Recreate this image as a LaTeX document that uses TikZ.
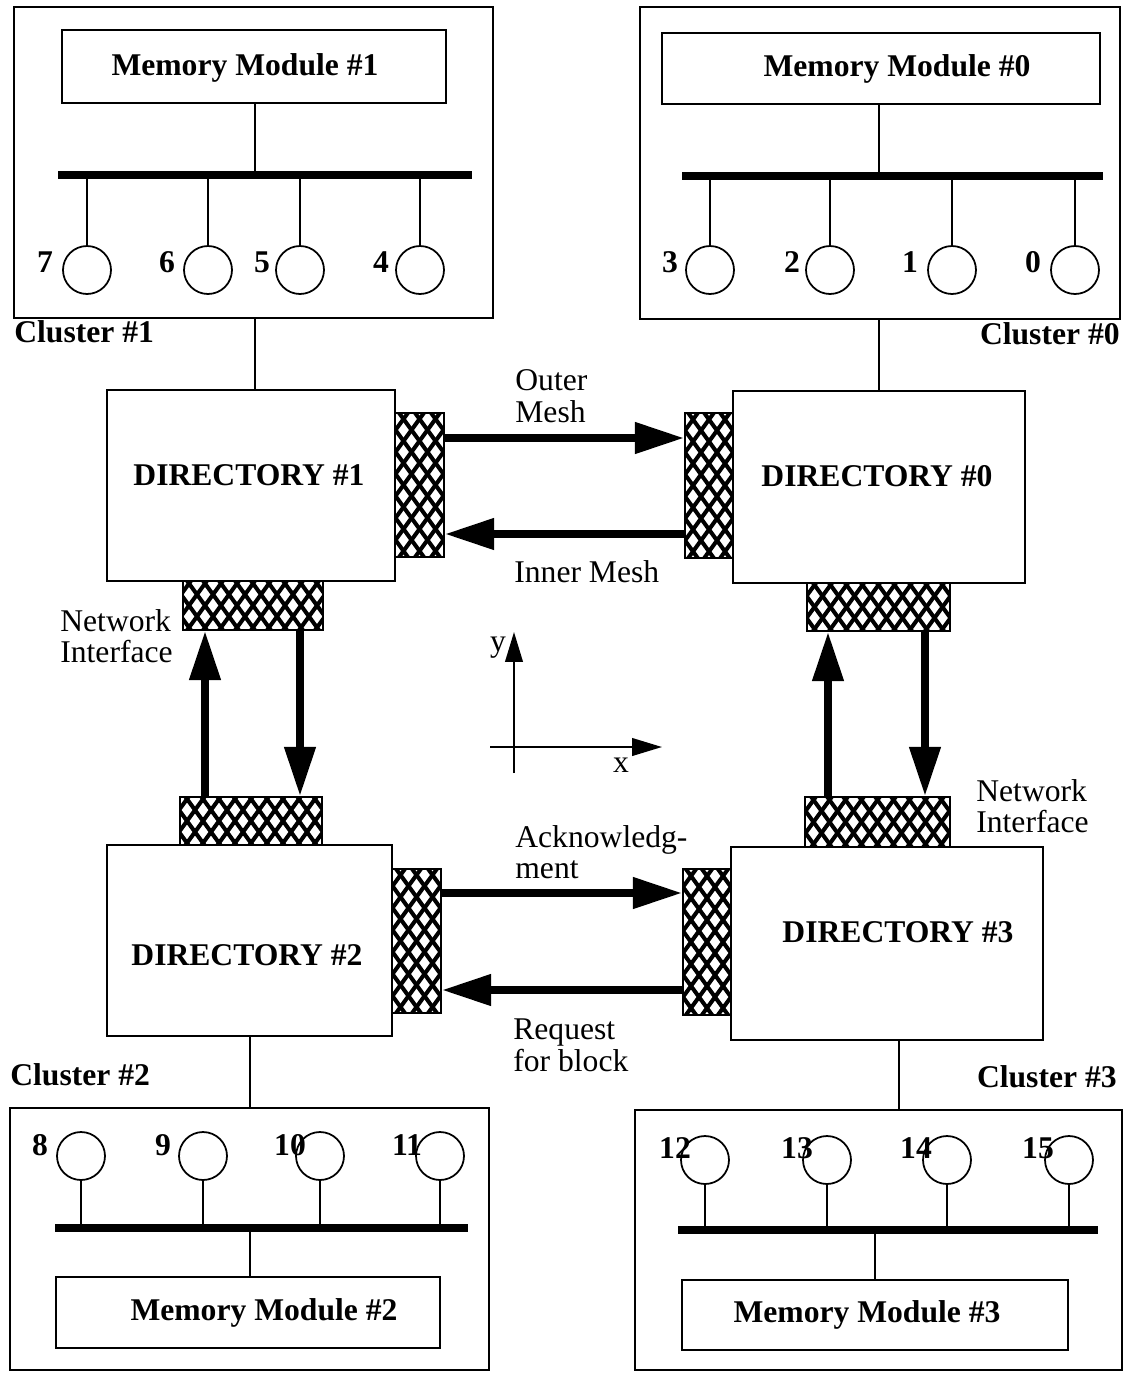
\documentclass[tikz,border=0pt]{standalone}
\usepackage{fontspec}
\setmainfont{Liberation Serif}
\usetikzlibrary{arrows.meta,fit}
\newcommand\lbl{\fontsize{18}{18}\selectfont}
\begin{document}
\begin{tikzpicture}[x=0.02cm,y=-0.02cm,line cap=butt,line join=miter,
  box/.style={draw,line width=1pt,inner sep=0pt},
  boxtext/.style={font=\lbl\bfseries,inner sep=0pt},
  ni/.style={draw,line width=1pt,inner sep=0pt,
    path picture={\foreach \k in {-12,...,12}{
      \draw[line width=2.3pt] ([xshift=\k*3.2mm]path picture bounding box.center) ++(-80,-110) -- ++(160,220);
      \draw[line width=2.3pt] ([xshift=\k*3.2mm]path picture bounding box.center) ++(-80,110) -- ++(160,-220);}}},
  cpu/.style={circle,draw,line width=1pt,minimum size=0.96cm,inner sep=0pt},
  num/.style={font=\lbl\bfseries,inner sep=0pt},
  txt/.style={font=\lbl,align=left,anchor=west,inner sep=0pt},
  link/.style={line width=1pt},
  bus/.style={line width=4.5pt},
  bigarrow/.style={line width=4.5pt,-{Triangle[length=28pt,width=17pt]}},
  axis/.style={line width=1.2pt,-{Triangle[length=17pt,width=10pt]}}]
  \useasboundingbox (0,0) rectangle (1128,1373);

  % Cluster #1 (top left)
  \node[box,fit={(14,7) (493,318)}] (cl1) {};
  \node[box,fit={(62,30) (446,103)}] (mm1) {};
  \node[boxtext] at (245,68) {Memory Module \#1};
  \coordinate (bus1w) at (58,175);
  \coordinate (bus1e) at (472,175);
  \draw[bus] (bus1w) -- (bus1e);
  \draw[link] (mm1.south -| 255,0) -- (bus1w -| 255,0);
  \foreach \cx/\lx/\n in {87/45/7, 208/167/6, 300/262/5, 420/381/4}{
    \node[cpu] (p\n) at (\cx,270) {};
    \node[num] at (\lx,262) {\n};
    \draw[link] (p\n.north) -- (p\n.north |- bus1w);
  }
  \node[num,anchor=west] at (14,332) {Cluster \#1};

  % Cluster #0 (top right)
  \node[box,fit={(640,7) (1120,319)}] (cl0) {};
  \node[box,fit={(662,33) (1100,104)}] (mm0) {};
  \node[boxtext] at (897,69) {Memory Module \#0};
  \coordinate (bus0w) at (682,176);
  \coordinate (bus0e) at (1103,176);
  \draw[bus] (bus0w) -- (bus0e);
  \draw[link] (mm0.south -| 879,0) -- (bus0w -| 879,0);
  \foreach \cx/\lx/\n in {710/670/3, 830/792/2, 952/910/1, 1075/1033/0}{
    \node[cpu] (p\n) at (\cx,270) {};
    \node[num] at (\lx,262) {\n};
    \draw[link] (p\n.north) -- (p\n.north |- bus0w);
  }
  \node[num,anchor=east] at (1120,334) {Cluster \#0};

  % Cluster #2 (bottom left)
  \node[box,fit={(10,1108) (489,1370)}] (cl2) {};
  \node[box,fit={(56,1277) (440,1348)}] (mm2) {};
  \node[boxtext] at (264,1313) {Memory Module \#2};
  \coordinate (bus2w) at (55,1228);
  \coordinate (bus2e) at (468,1228);
  \draw[bus] (bus2w) -- (bus2e);
  \draw[link] (mm2.north -| 250,0) -- (bus2w -| 250,0);
  \foreach \cx/\lx/\n in {81/40/8, 203/163/9, 320/290/10, 440/407/11}{
    \node[cpu] (p\n) at (\cx,1156) {};
    \node[num] at (\lx,1145) {\n};
    \draw[link] (p\n.south) -- (p\n.south |- bus2w);
  }
  \node[num,anchor=west] at (10,1075) {Cluster \#2};

  % Cluster #3 (bottom right)
  \node[box,fit={(635,1110) (1122,1370)}] (cl3) {};
  \node[box,fit={(682,1280) (1068,1350)}] (mm3) {};
  \node[boxtext] at (867,1315) {Memory Module \#3};
  \coordinate (bus3w) at (678,1230);
  \coordinate (bus3e) at (1098,1230);
  \draw[bus] (bus3w) -- (bus3e);
  \draw[link] (mm3.north -| 875,0) -- (bus3w -| 875,0);
  \foreach \cx/\lx/\n in {705/675/12, 827/797/13, 947/916/14, 1069/1038/15}{
    \node[cpu] (p\n) at (\cx,1160) {};
    \node[num] at (\lx,1148) {\n};
    \draw[link] (p\n.south) -- (p\n.south |- bus3w);
  }
  \node[num,anchor=east] at (1117,1077) {Cluster \#3};

  % Directories and network interfaces
  \node[box,fit={(107,390) (395,581)}] (dir1) {};
  \node[box,fit={(733,391) (1025,583)}] (dir0) {};
  \node[box,fit={(107,845) (392,1036)}] (dir2) {};
  \node[box,fit={(731,847) (1043,1040)}] (dir3) {};
  \node[boxtext] at (249,475) {DIRECTORY \#1};
  \node[boxtext] at (877,476) {DIRECTORY \#0};
  \node[boxtext] at (247,955) {DIRECTORY \#2};
  \node[boxtext] at (898,932) {DIRECTORY \#3};
  \node[ni,fit={(395,413) (444,557)}] (ni1r) {};
  \node[ni,fit={(183,581) (323,630)}] (ni1b) {};
  \node[ni,fit={(685,413) (733,558)}] (ni0l) {};
  \node[ni,fit={(807,583) (950,631)}] (ni0b) {};
  \node[ni,fit={(180,797) (322,845)}] (ni2t) {};
  \node[ni,fit={(392,869) (441,1013)}] (ni2r) {};
  \node[ni,fit={(805,797) (950,847)}] (ni3t) {};
  \node[ni,fit={(683,869) (731,1015)}] (ni3l) {};

  % cluster to directory links
  \draw[link] (cl1.south -| 255,0) -- (dir1.north -| 255,0);
  \draw[link] (cl0.south -| 879,0) -- (dir0.north -| 879,0);
  \draw[link] (dir2.south -| 250,0) -- (cl2.north -| 250,0);
  \draw[link] (dir3.south -| 899,0) -- (cl3.north -| 899,0);

  % mesh channels
  \draw[bigarrow] (ni1r.east |- 0,438) -- (ni0l.west |- 0,438);
  \draw[bigarrow] (ni0l.west |- 0,534) -- (ni1r.east |- 0,534);
  \draw[bigarrow] (ni2r.east |- 0,893) -- (ni3l.west |- 0,893);
  \draw[bigarrow] (ni3l.west |- 0,990) -- (ni2r.east |- 0,990);
  \draw[bigarrow] (ni2t.north -| 205,0) -- (ni1b.south -| 205,0);
  \draw[bigarrow] (ni1b.south -| 300,0) -- (ni2t.north -| 300,0);
  \draw[bigarrow] (ni3t.north -| 828,0) -- (ni0b.south -| 828,0);
  \draw[bigarrow] (ni0b.south -| 925,0) -- (ni3t.north -| 925,0);

  % labels
  \node[txt] at (515,396) {Outer\\Mesh};
  \node[txt] at (514,572) {Inner Mesh};
  \node[txt] at (515,852) {Acknowledg-\\ment};
  \node[txt] at (513,1045) {Request\\for block};
  \node[txt] at (60,636) {Network\\Interface};
  \node[txt] at (976,806) {Network\\Interface};

  % axes
  \coordinate (ylo) at (514,773);
  \coordinate (yhi) at (514,632);
  \coordinate (xlo) at (490,747);
  \coordinate (xhi) at (662,747);
  \draw[axis] (ylo) -- (yhi);
  \draw[axis] (xlo) -- (xhi);
  \node[font=\lbl] at (498,648) {y};
  \node[font=\lbl] at (621,765) {x};
\end{tikzpicture}
\end{document}
